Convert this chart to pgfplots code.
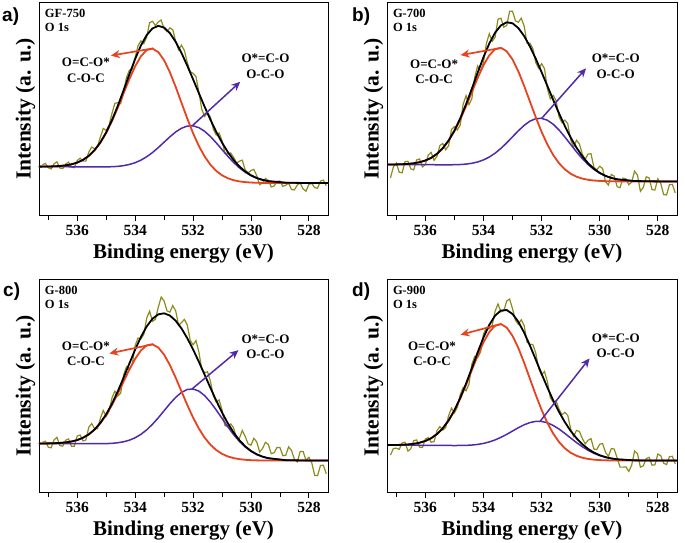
\documentclass[border=0pt]{standalone}
\usepackage{pgfplots}
\pgfplotsset{compat=1.18}
\usepackage{pgfplotstable}
\usepackage{fontspec}
\setmainfont{Liberation Serif}
\newfontfamily\arial{Liberation Sans}
\usetikzlibrary{arrows.meta}
\definecolor{olivec}{RGB}{140,140,28}
\definecolor{redc}{RGB}{232,66,30}
\definecolor{bluec}{RGB}{82,42,168}

% ---------- panel a ----------
\pgfplotstableread{
x r b k
527.2 100 100 100
528.0 100 100 100
528.8 100 101 101
529.4 100.2 105.7 105.8
529.6 100.4 109.4 109.7
529.8 100.8 114.9 115.5
530.0 101.5 122.6 123.8
530.2 102.8 133.2 135.5
530.4 105.0 146.7 150.9
530.6 108.6 163.0 170.5
530.8 114.6 182.0 194.9
531.0 123.7 202.5 223.8
531.2 137.1 223.1 256.9
531.4 156.0 242.4 293.8
531.6 181.3 258.4 333.6
531.8 213.5 269.6 375.2
532.0 252.7 275.1 417.7
532.2 297.6 274.3 459.3
532.4 345.9 267.7 498.2
532.6 394.4 256.3 532.2
532.8 439.1 241.5 558.9
533.0 475.8 225.1 575.9
533.2 500.8 208.6 581.1
533.4 511.5 193.4 573.4
533.6 507.1 180.5 553.0
533.8 488.2 170.1 520.9
534.0 457.3 162.2 479.6
534.2 418.0 156.8 432.7
534.4 374.4 153.2 383.7
534.6 330.4 151.0 336.0
534.8 289.3 150.0 292.6
535.0 253.2 149.4 255.0
535.2 223.5 149.3 224.5
535.4 200.3 149.4 200.8
535.6 183.0 149.4 183.2
535.8 170.8 149.6 170.9
536.0 162.6 149.7 162.6
536.2 157.3 149.8 157.3
536.4 154.1 149.9 154.1
536.6 152.2 149.9 152.2
536.8 151.2 150 151.2
537.0 150.6 150 150.6
537.4 150.1 150 150.1
}\fitA
\pgfplotstableread{
x y
527.4 92
527.5 109
527.6 106
527.7 84
527.8 86
527.9 99
528.0 96
528.1 75
528.2 82
528.3 100
528.4 94
528.5 79
528.6 80
528.7 100
528.8 93
528.9 90
529.0 106
529.1 105
529.2 91
529.3 88
529.4 108
529.5 114
529.6 100
529.7 95
529.8 122
529.9 142
530.0 138
530.1 131
530.2 140
530.3 170
530.4 167
530.5 161
530.6 179
530.7 192
530.8 189
530.9 192
531.0 230
531.1 253
531.2 247
531.3 265
531.4 302
531.5 315
531.6 304
531.7 326
531.8 379
531.9 426
532.0 436
532.1 441
532.2 469
532.3 506
532.4 522
532.5 508
532.6 534
532.7 569
532.8 575
532.9 564
533.0 572
533.1 599
533.2 593
533.3 582
533.4 595
533.5 591
533.6 547
533.7 527
533.8 535
533.9 520
534.0 484
534.1 449
534.2 445
534.3 423
534.4 376
534.5 343
534.6 346
534.7 344
534.8 313
534.9 277
535.0 261
535.1 267
535.2 241
535.3 211
535.4 205
535.5 210
535.6 195
535.7 167
535.8 167
535.9 176
536.0 169
536.1 147
536.2 149
536.3 164
536.4 158
536.5 144
536.6 146
536.7 165
536.8 159
536.9 143
537.0 147
537.1 160
537.2 156
}\rawA

% ---------- panel b ----------
\pgfplotstableread{
x r b k
527.2 104 104 104
528.0 104 104 104
528.8 104 105.1 105.1
529.4 104.2 110.3 110.4
529.6 104.4 114.3 114.6
529.8 104.8 120.3 120.9
530.0 105.5 128.8 130.0
530.2 106.7 140.3 142.5
530.4 108.9 155.1 159.2
530.6 112.6 173.1 180.5
530.8 118.4 193.8 206.5
531.0 127.3 216.2 237.1
531.2 140.6 238.8 272.0
531.4 159.2 259.9 310.4
531.6 184.0 277.3 351.1
531.8 215.8 289.5 393.2
532.0 254.3 295.3 435.3
532.2 298.5 294.3 475.9
532.4 345.9 286.8 513.0
532.6 393.6 274.0 544.8
532.8 437.7 257.5 569.1
533.0 473.8 239.3 583.6
533.2 498.5 221.0 586.6
533.4 509.2 204.1 577.1
533.6 504.9 189.6 555.2
533.8 486.4 177.9 522.2
534.0 456.3 169.2 480.8
534.2 417.7 163.0 433.8
534.4 375.0 159.0 385.2
534.6 331.9 156.5 338.1
534.8 291.6 155.2 295.2
535.0 256.3 154.6 258.3
535.2 227.1 154.4 228.2
535.4 204.3 154.4 204.9
535.6 187.4 154.5 187.7
535.8 175.4 154.6 175.5
536.0 167.4 154.7 167.4
536.2 162.2 154.8 162.2
536.4 159.0 154.9 159.0
536.6 157.1 154.9 157.1
536.8 156.2 155 156.2
537.0 155.6 155 155.6
537.4 155.1 155 155.1
}\fitB
\pgfplotstableread{
x y
527.4 69
527.5 95
527.6 94
527.7 63
527.8 64
527.9 98
528.0 112
528.1 78
528.2 79
528.3 115
528.4 118
528.5 86
528.6 74
528.7 123
528.8 135
528.9 102
529.0 94
529.1 112
529.2 114
529.3 85
529.4 88
529.5 120
529.6 125
529.7 93
529.8 103
529.9 143
530.0 150
530.1 139
530.2 147
530.3 188
530.4 187
530.5 171
530.6 187
530.7 218
530.8 229
530.9 207
531.0 231
531.1 279
531.2 290
531.3 282
531.4 300
531.5 349
531.6 365
531.7 354
531.8 385
531.9 446
532.0 461
532.1 447
532.2 464
532.3 507
532.4 523
532.5 523
532.6 575
532.7 599
532.8 587
532.9 591
533.0 620
533.1 620
533.2 577
533.3 572
533.4 599
533.5 596
533.6 541
533.7 529
533.8 552
533.9 522
534.0 465
534.1 439
534.2 454
534.3 421
534.4 355
534.5 337
534.6 364
534.7 338
534.8 275
534.9 260
535.0 270
535.1 262
535.2 212
535.3 200
535.4 219
535.5 213
535.6 180
535.7 168
535.8 192
535.9 184
536.0 155
536.1 148
536.2 172
536.3 169
536.4 139
536.5 142
536.6 165
536.7 164
536.8 130
536.9 132
537.0 160
537.1 148
537.2 115
}\rawB

% ---------- panel c ----------
\pgfplotstableread{
x r b k
527.2 98 98 98
528.0 98 98.1 98.1
528.8 98 99.2 99.2
529.4 98.2 105.2 105.3
529.6 98.3 109.8 110.0
529.8 98.7 116.7 117.2
530.0 99.3 126.4 127.4
530.2 100.4 139.7 141.6
530.4 102.4 156.6 160.2
530.6 105.6 177.3 183.7
530.8 110.6 201.0 211.9
531.0 118.6 226.7 244.8
531.2 130.1 252.5 281.1
531.4 146.3 276.4 320.0
531.6 168.0 296.3 360.0
531.8 195.8 310.2 399.7
532.0 229.3 316.5 437.3
532.2 267.8 315.0 471.7
532.4 309.3 306.0 501.3
532.6 351.0 290.9 524.7
532.8 389.6 271.6 540.6
533.0 421.2 250.2 547.4
533.2 443.0 228.7 544.3
533.4 452.8 208.9 530.9
533.6 449.6 191.8 507.4
533.8 434.1 178.1 475.3
534.0 408.5 167.6 436.6
534.2 375.5 160.2 394.0
534.4 339.0 155.4 350.7
534.6 302.0 152.4 309.1
534.8 267.3 150.6 271.4
535.0 237.0 149.8 239.3
535.2 212.0 149.5 213.2
535.4 192.4 149.4 193.0
535.6 177.8 149.5 178.1
535.8 167.6 149.6 167.7
536.0 160.6 149.7 160.6
536.2 156.2 149.8 156.2
536.4 153.5 149.9 153.5
536.6 151.8 149.9 151.8
536.8 151.0 150 151.0
537.0 150.5 150 150.5
537.4 150.1 150 150.1
}\fitC
\pgfplotstableread{
x y
527.4 58
527.5 84
527.6 83
527.7 52
527.8 53
527.9 91
528.0 108
528.1 99
528.2 126
528.3 126
528.4 94
528.5 102
528.6 129
528.7 140
528.8 114
528.9 113
529.0 138
529.1 138
529.2 122
529.3 119
529.4 147
529.5 154
529.6 135
529.7 124
529.8 155
529.9 166
530.0 145
530.1 149
530.2 172
530.3 190
530.4 166
530.5 166
530.6 198
530.7 210
530.8 202
530.9 205
531.0 253
531.1 283
531.2 277
531.3 296
531.4 340
531.5 369
531.6 366
531.7 377
531.8 430
531.9 464
532.0 451
532.1 466
532.2 512
532.3 529
532.4 519
532.5 511
532.6 555
532.7 571
532.8 551
532.9 555
533.0 585
533.1 597
533.2 566
533.3 529
533.4 523
533.5 554
533.6 533
533.7 483
533.8 469
533.9 472
534.0 449
534.1 392
534.2 376
534.3 384
534.4 359
534.5 304
534.6 295
534.7 310
534.8 289
534.9 248
535.0 233
535.1 251
535.2 227
535.3 195
535.4 195
535.5 211
535.6 200
535.7 161
535.8 158
535.9 176
536.0 173
536.1 142
536.2 142
536.3 164
536.4 160
536.5 142
536.6 144
536.7 169
536.8 161
536.9 137
537.0 139
537.1 157
537.2 154
}\rawC

% ---------- panel d ----------
\pgfplotstableread{
x r b k
527.2 98 98 98
528.0 98 98 98
528.8 98 98.7 98.7
529.4 98.2 101.8 101.9
529.6 98.4 104.3 104.6
529.8 98.8 108.0 108.6
530.0 99.5 113.2 114.4
530.2 100.8 120.3 122.6
530.4 103.0 129.3 133.6
530.6 106.8 140.4 148.1
530.8 112.8 153.1 166.3
531.0 121.9 166.9 188.6
531.2 135.5 181.0 215.4
531.4 154.7 194.2 246.6
531.6 180.3 205.2 281.8
531.8 213.1 213.3 320.9
532.0 252.7 217.5 362.7
532.2 298.3 217.7 406.1
532.4 347.2 214.0 448.7
532.6 396.4 207.3 488.3
532.8 441.7 198.3 521.6
533.0 478.7 188.2 545.4
533.2 503.9 178.1 557.4
533.4 514.6 168.9 555.9
533.6 509.8 161.1 540.4
533.8 490.3 154.9 512.1
534.0 458.8 150.4 473.7
534.2 418.5 147.3 428.3
534.4 374.0 145.5 380.2
534.6 329.1 144.4 332.8
534.8 287.1 144.1 289.3
535.0 250.4 144.0 251.6
535.2 220.0 144.1 220.7
535.4 196.3 144.2 196.6
535.6 178.7 144.5 178.9
535.8 166.2 144.6 166.3
536.0 157.9 144.7 157.9
536.2 152.5 144.8 152.5
536.4 149.2 144.9 149.2
536.6 147.2 144.9 147.2
536.8 146.2 145 146.2
537.0 145.6 145 145.6
537.4 145.1 145 145.1
}\fitD
\pgfplotstableread{
x y
527.4 88
527.5 111
527.6 110
527.7 86
527.8 90
527.9 113
528.0 118
528.1 85
528.2 84
528.3 108
528.4 104
528.5 82
528.6 78
528.7 119
528.8 127
528.9 84
529.0 65
529.1 79
529.2 78
529.3 78
529.4 106
529.5 133
529.6 135
529.7 111
529.8 123
529.9 150
530.0 148
530.1 132
530.2 133
530.3 165
530.4 160
530.5 149
530.6 166
530.7 187
530.8 190
530.9 172
531.0 195
531.1 236
531.2 245
531.3 238
531.4 255
531.5 280
531.6 276
531.7 290
531.8 339
531.9 370
532.0 359
532.1 379
532.2 426
532.3 452
532.4 453
532.5 459
532.6 510
532.7 528
532.8 514
532.9 526
533.0 561
533.1 591
533.2 585
533.3 555
533.4 552
533.5 576
533.6 554
533.7 511
533.8 500
533.9 504
534.0 484
534.1 430
534.2 412
534.3 416
534.4 392
534.5 331
534.6 311
534.7 321
534.8 299
534.9 260
535.0 244
535.1 258
535.2 235
535.3 199
535.4 191
535.5 202
535.6 189
535.7 156
535.8 154
535.9 168
536.0 164
536.1 138
536.2 139
536.3 161
536.4 159
536.5 134
536.6 127
536.7 154
536.8 152
536.9 132
537.0 136
537.1 135
537.2 115
}\rawD

\tikzset{
  ann/.style={font=\fontsize{13}{15.5}\selectfont\bfseries, align=center},
  samp/.style={font=\fontsize{12.5}{13.5}\selectfont\bfseries, align=left, anchor=north west, inner sep=0pt},
  plab/.style={anchor=base west, inner sep=0pt, font=\arial\fontsize{19}{20}\selectfont\bfseries},
  raw/.style={olivec, line width=1.2pt},
  fitr/.style={redc, line width=1.8pt},
  fitb/.style={bluec, line width=1.5pt},
  fitk/.style={black, line width=1.8pt},
  rarr/.style={redc, line width=1.7pt, -{Stealth[length=9pt,width=8pt]}},
  barr/.style={bluec, line width=1.5pt, -{Stealth[length=9pt,width=8pt]}},
}
\pgfplotsset{
  xps/.style={
    scale only axis, width=289pt, height=213pt,
    anchor=north west,
    x dir=reverse, xmin=527.34, xmax=537.32, ymin=0, ymax=650,
    xtick={528,530,532,534,536}, minor xtick={527,529,531,533,535,537},
    ytick=\empty,
    xtick pos=left, tick align=outside,
    major tick length=5pt, minor tick length=4pt,
    every tick/.style={black, line width=0.8pt},
    axis line style={line width=0.9pt},
    /pgf/number format/assume math mode=true,
    /pgf/number format/1000 sep={},
    xticklabel style={font=\fontsize{15.5}{18}\selectfont\bfseries, inner sep=0pt, yshift=-4pt, anchor=north},
    xlabel={Binding energy (eV)},
    ylabel={Intensity (a. u.)},
    xlabel style={font=\fontsize{21}{24}\selectfont\bfseries, at={(axis description cs:0.5,-0.2)}, anchor=base, inner sep=0pt},
    ylabel style={font=\fontsize{21.5}{24}\selectfont\bfseries, at={(axis description cs:-0.012,0.5)}, anchor=south, inner sep=0pt},
  },
}

\begin{document}
\begin{tikzpicture}
\useasboundingbox (0pt,0pt) rectangle (685pt,-543pt);

% a
\begin{axis}[xps, at={(39pt,-2.7pt)}, ymax=652]
\addplot[raw] table[x=x,y=y]{\rawA};
\addplot[fitb] table[x=x,y=b]{\fitA};
\addplot[fitr] table[x=x,y=r]{\fitA};
\addplot[fitk] table[x=x,y=k]{\fitA};
\draw[rarr] (axis cs:533.38,512) -- (axis cs:534.84,490);
\draw[barr] (axis cs:532.03,275) -- (axis cs:530.37,410);
\node[ann] at (axis cs:535.7,445) {O=C-O*\\C-O-C};
\node[ann] at (axis cs:529.5,458) {O*=C-O\\O-C-O};
\node[samp] at (axis description cs:0.02,0.97) {GF-750\\O 1s};
\end{axis}

% b
\begin{axis}[xps, at={(387pt,-2.7pt)}, width=290pt, ymax=646]
\addplot[raw] table[x=x,y=y]{\rawB};
\addplot[fitb] table[x=x,y=b]{\fitB};
\addplot[fitr] table[x=x,y=r]{\fitB};
\addplot[fitk] table[x=x,y=k]{\fitB};
\draw[rarr] (axis cs:533.38,509) -- (axis cs:534.79,487);
\draw[barr] (axis cs:532.0,295) -- (axis cs:530.47,447);
\node[ann] at (axis cs:535.7,437) {O=C-O*\\C-O-C};
\node[ann] at (axis cs:529.45,453) {O*=C-O\\O-C-O};
\node[samp] at (axis description cs:0.02,0.97) {G-700\\O 1s};
\end{axis}

% c
\begin{axis}[xps, at={(39pt,-279.7pt)}, ymax=650]
\addplot[raw] table[x=x,y=y]{\rawC};
\addplot[fitb] table[x=x,y=b]{\fitC};
\addplot[fitr] table[x=x,y=r]{\fitC};
\addplot[fitk] table[x=x,y=k]{\fitC};
\draw[rarr] (axis cs:533.38,453) -- (axis cs:534.89,425);
\draw[barr] (axis cs:532.03,317) -- (axis cs:530.43,435);
\node[ann] at (axis cs:535.7,424) {O=C-O*\\C-O-C};
\node[ann] at (axis cs:529.5,445) {O*=C-O\\O-C-O};
\node[samp] at (axis description cs:0.02,0.97) {G-800\\O 1s};
\end{axis}

% d
\begin{axis}[xps, at={(387pt,-279.7pt)}, width=290pt, ymax=650]
\addplot[raw] table[x=x,y=y]{\rawD};
\addplot[fitb] table[x=x,y=b]{\fitD};
\addplot[fitr] table[x=x,y=r]{\fitD};
\addplot[fitk] table[x=x,y=k]{\fitD};
\draw[rarr] (axis cs:533.38,515) -- (axis cs:534.79,482);
\draw[barr] (axis cs:532.05,218) -- (axis cs:530.35,410);
\node[ann] at (axis cs:535.77,424) {O=C-O*\\C-O-C};
\node[ann] at (axis cs:529.45,448) {O*=C-O\\O-C-O};
\node[samp] at (axis description cs:0.02,0.97) {G-900\\O 1s};
\end{axis}

\node[plab] at (2pt,-22pt) {a)};
\node[plab] at (352pt,-22pt) {b)};
\node[plab] at (3pt,-296pt) {c)};
\node[plab] at (352pt,-296pt) {d)};
\end{tikzpicture}
\end{document}
